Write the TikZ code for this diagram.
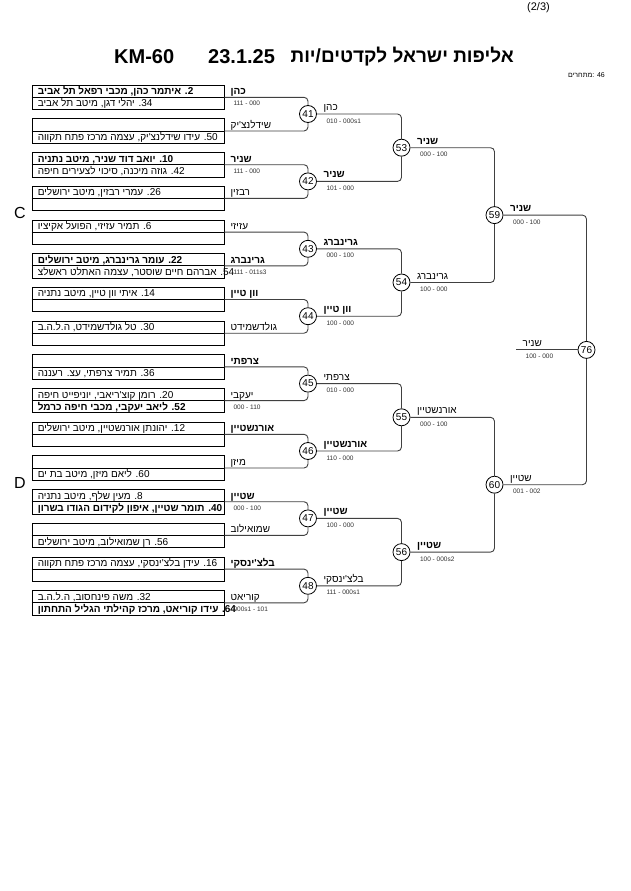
\documentclass[tikz,border=0pt]{standalone}
\usepackage{fontspec}
\setmainfont{Liberation Sans}
\newfontfamily\heb[Script=Hebrew]{Liberation Sans}
\TeXXeTstate=1
\newcommand\rl[1]{{\heb\beginR #1\endR}}
\begin{document}
\begin{tikzpicture}[x=1pt,y=-1pt,
    pbox/.style={draw=black, line width=0.8pt, minimum width=192pt, minimum height=24.4pt, inner sep=0pt},
    conn/.style={draw=black!75, line width=0.9pt, rounded corners=4pt},
    bout/.style={circle, draw=black, fill=white, line width=0.8pt, minimum size=17pt, inner sep=0pt, font=\fontsize{10}{10}\selectfont},
    toprow/.style={anchor=base west, inner sep=0pt, xshift=6pt, yshift=2.6pt, font=\fontsize{10}{10}\selectfont},
    botrow/.style={anchor=base west, inner sep=0pt, xshift=6pt, yshift=-9.6pt, font=\fontsize{10}{10}\selectfont},
    lab/.style={anchor=base west, inner sep=0pt, xshift=6pt, yshift=2.6pt, font=\fontsize{10}{10}\selectfont},
    sc/.style={anchor=base west, inner sep=0pt, xshift=9pt, yshift=-8.5pt, text=black!80, font=\fontsize{6.5}{6.5}\selectfont},
    rlab/.style={anchor=base west, inner sep=0pt, xshift=6.5pt, yshift=3.5pt, font=\fontsize{10}{10}\selectfont},
    rsc/.style={anchor=base west, inner sep=0pt, xshift=9.5pt, yshift=-9pt, text=black!80, font=\fontsize{6.5}{6.5}\selectfont}]
  \useasboundingbox[fill=white] (0,0) rectangle (630,891);
  % header
  \node[anchor=center, font=\fontsize{11}{11}\selectfont] (page) at (538.5,8) {(2/3)};
  \node[anchor=west, font=\bfseries\fontsize{20}{20}\selectfont, inner sep=0pt] (kmcode) at (114,57) {KM-60};
  \node[anchor=west, font=\bfseries\fontsize{20}{20}\selectfont, inner sep=0pt] (tdate) at (208,57) {23.1.25};
  \node[anchor=east, font=\bfseries\fontsize{19}{19}\selectfont, inner sep=0pt] (ttitle) at (514,57) {\rl{אליפות ישראל לקדטים/יות}};
  \node[anchor=east, font=\fontsize{7}{7}\selectfont, inner sep=0pt] (count) at (605,75) {{\heb מתחרים}: 46};
  \node[font=\fontsize{16}{16}\selectfont] (secC) at (20,213) {C};
  \node[font=\fontsize{16}{16}\selectfont] (secD) at (20,483) {D};
  % pool boxes
  \foreach \i in {1,...,16}
    \node[pbox] (b\i) at (128,{97.3+33.7*(\i-1)}) {};
  \foreach \i in {1,...,16}
    \draw[line width=0.8pt] (b\i.west) -- (b\i.east);
  % bouts
  \foreach \m [count=\k from 0] in {41,...,48}
    \node[bout] (m\m) at (308,{114+67.4*\k}) {\m};
  \foreach \m [count=\k from 0] in {53,...,56}
    \node[bout] (m\m) at (401.5,{147.7+134.8*\k}) {\m};
  \node[bout] (m59) at (494.5,215.1) {59};
  \node[bout] (m60) at (494.5,484.7) {60};
  \node[bout] (m76) at (586.5,349.9) {76};
  % connectors
  \foreach \a/\b/\m in {1/2/41, 3/4/42, 5/6/43, 7/8/44, 9/10/45, 11/12/46, 13/14/47, 15/16/48}{
    \draw[conn] (b\a.east) -| (m\m);
    \draw[conn] (b\b.east) -| (m\m);
  }
  \foreach \a/\b/\m in {41/42/53, 43/44/54, 45/46/55, 47/48/56, 53/54/59, 55/56/60, 59/60/76}{
    \draw[conn] (m\a) -| (m\m);
    \draw[conn] (m\b) -| (m\m);
  }
  \coordinate (champ) at (516,349.9);
  \draw[conn] (champ) -- (m76);
  % names in boxes
  \node[toprow] (t1) at (b1.west) {\rl{\bfseries 2. איתמר כהן, מכבי רפאל תל אביב}};
  \node[botrow] (u1) at (b1.west) {\rl{34. יהלי דגן, מיטב תל אביב}};
  \node[botrow] (u2) at (b2.west) {\rl{50. עידו שידלנצ'יק, עצמה מרכז פתח תקווה}};
  \node[toprow] (t3) at (b3.west) {\rl{\bfseries 10. יואב דוד שניר, מיטב נתניה}};
  \node[botrow] (u3) at (b3.west) {\rl{42. גוזה מיכנה, סיכוי לצעירים חיפה}};
  \node[toprow] (t4) at (b4.west) {\rl{26. עמרי רבזין, מיטב ירושלים}};
  \node[toprow] (t5) at (b5.west) {\rl{6. תמיר עזיזי, הפועל אקיציו}};
  \node[toprow] (t6) at (b6.west) {\rl{\bfseries 22. עומר גרינברג, מיטב ירושלים}};
  \node[botrow] (u6) at (b6.west) {\rl{54. אברהם חיים שוסטר, עצמה האתלט ראשלצ}};
  \node[toprow] (t7) at (b7.west) {\rl{14. איתי וון טיין, מיטב נתניה}};
  \node[toprow] (t8) at (b8.west) {\rl{30. טל גולדשמידט, ה.ל.ה.ב}};
  \node[botrow] (u9) at (b9.west) {\rl{36. תמיר צרפתי, עצ. רעננה}};
  \node[toprow] (t10) at (b10.west) {\rl{20. רומן קוצ'ריאבי, יוניפייט חיפה}};
  \node[botrow] (u10) at (b10.west) {\rl{\bfseries 52. ליאב יעקבי, מכבי חיפה כרמל}};
  \node[toprow] (t11) at (b11.west) {\rl{12. יהונתן אורנשטיין, מיטב ירושלים}};
  \node[botrow] (u12) at (b12.west) {\rl{60. ליאם מיזן, מיטב בת ים}};
  \node[toprow] (t13) at (b13.west) {\rl{8. מעין שלף, מיטב נתניה}};
  \node[botrow] (u13) at (b13.west) {\rl{\bfseries 40. תומר שטיין, איפון לקידום הגודו בשרון}};
  \node[botrow] (u14) at (b14.west) {\rl{56. רן שמואילוב, מיטב ירושלים}};
  \node[toprow] (t15) at (b15.west) {\rl{16. עידן בלצ'ינסקי, עצמה מרכז פתח תקווה}};
  \node[toprow] (t16) at (b16.west) {\rl{32. משה פינחסוב, ה.ל.ה.ב}};
  \node[botrow] (u16) at (b16.west) {\rl{\bfseries 64. עידו קוריאט, מרכז קהילתי הגליל התחתון}};
  % first column labels and scores
  \node[lab] (l1) at (b1.east) {\rl{\bfseries כהן}};
  \node[sc] (s1) at (b1.east) {111 - 000};
  \node[lab] (l2) at (b2.east) {\rl{שידלנצ'יק}};
  \node[lab] (l3) at (b3.east) {\rl{\bfseries שניר}};
  \node[sc] (s3) at (b3.east) {111 - 000};
  \node[lab] (l4) at (b4.east) {\rl{רבזין}};
  \node[lab] (l5) at (b5.east) {\rl{עזיזי}};
  \node[lab] (l6) at (b6.east) {\rl{\bfseries גרינברג}};
  \node[sc] (s6) at (b6.east) {111 - 011s3};
  \node[lab] (l7) at (b7.east) {\rl{\bfseries וון טיין}};
  \node[lab] (l8) at (b8.east) {\rl{גולדשמידט}};
  \node[lab] (l9) at (b9.east) {\rl{\bfseries צרפתי}};
  \node[lab] (l10) at (b10.east) {\rl{יעקבי}};
  \node[sc] (s10) at (b10.east) {000 - 110};
  \node[lab] (l11) at (b11.east) {\rl{\bfseries אורנשטיין}};
  \node[lab] (l12) at (b12.east) {\rl{מיזן}};
  \node[lab] (l13) at (b13.east) {\rl{\bfseries שטיין}};
  \node[sc] (s13) at (b13.east) {000 - 100};
  \node[lab] (l14) at (b14.east) {\rl{שמואילוב}};
  \node[lab] (l15) at (b15.east) {\rl{\bfseries בלצ'ינסקי}};
  \node[lab] (l16) at (b16.east) {\rl{קוריאט}};
  \node[sc] (s16) at (b16.east) {000s1 - 101};
  % later rounds
  \node[rlab] (l41) at (m41.east) {\rl{כהן}};
  \node[rsc] (s41) at (m41.east) {010 - 000s1};
  \node[rlab] (l42) at (m42.east) {\rl{\bfseries שניר}};
  \node[rsc] (s42) at (m42.east) {101 - 000};
  \node[rlab] (l43) at (m43.east) {\rl{\bfseries גרינברג}};
  \node[rsc] (s43) at (m43.east) {000 - 100};
  \node[rlab] (l44) at (m44.east) {\rl{\bfseries וון טיין}};
  \node[rsc] (s44) at (m44.east) {100 - 000};
  \node[rlab] (l45) at (m45.east) {\rl{צרפתי}};
  \node[rsc] (s45) at (m45.east) {010 - 000};
  \node[rlab] (l46) at (m46.east) {\rl{\bfseries אורנשטיין}};
  \node[rsc] (s46) at (m46.east) {110 - 000};
  \node[rlab] (l47) at (m47.east) {\rl{\bfseries שטיין}};
  \node[rsc] (s47) at (m47.east) {100 - 000};
  \node[rlab] (l48) at (m48.east) {\rl{בלצ'ינסקי}};
  \node[rsc] (s48) at (m48.east) {111 - 000s1};
  \node[rlab] (l53) at (m53.east) {\rl{\bfseries שניר}};
  \node[rsc] (s53) at (m53.east) {000 - 100};
  \node[rlab] (l54) at (m54.east) {\rl{גרינברג}};
  \node[rsc] (s54) at (m54.east) {100 - 000};
  \node[rlab] (l55) at (m55.east) {\rl{אורנשטיין}};
  \node[rsc] (s55) at (m55.east) {000 - 100};
  \node[rlab] (l56) at (m56.east) {\rl{\bfseries שטיין}};
  \node[rsc] (s56) at (m56.east) {100 - 000s2};
  \node[rlab] (l59) at (m59.east) {\rl{\bfseries שניר}};
  \node[rsc] (s59) at (m59.east) {000 - 100};
  \node[rlab] (l60) at (m60.east) {\rl{שטיין}};
  \node[rsc] (s60) at (m60.east) {001 - 002};
  \node[rlab] (l76) at (champ) {\rl{שניר}};
  \node[rsc] (s76) at (champ) {100 - 000};
\end{tikzpicture}
\end{document}
